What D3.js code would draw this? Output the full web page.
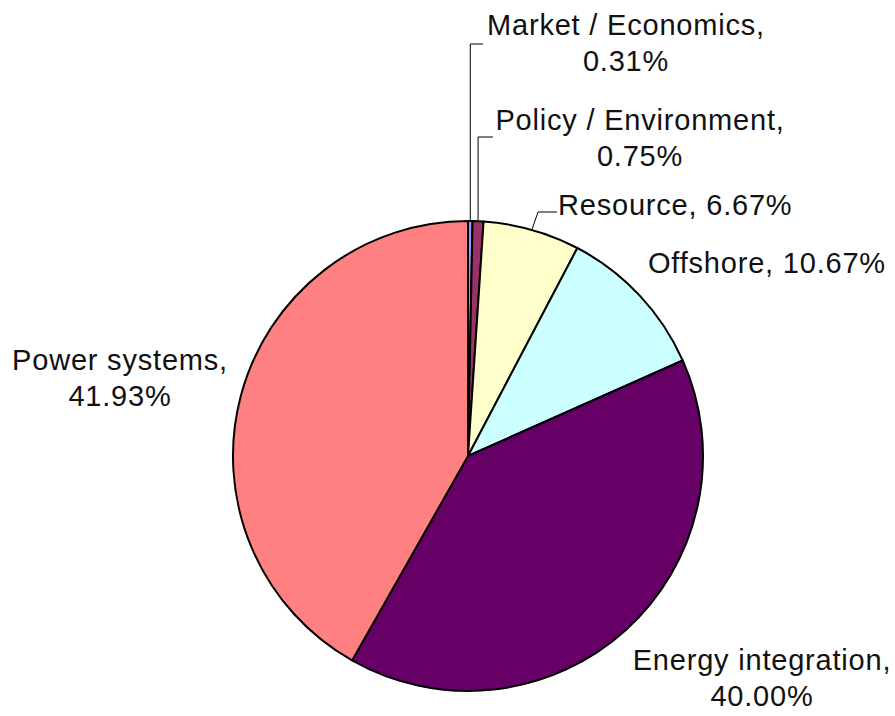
<!DOCTYPE html>
<html>
<head>
<meta charset="utf-8">
<script src="https://cdn.jsdelivr.net/npm/d3@7"></script>
<style>
  body { margin: 0; background: #fff; }
  text { font-family: "Liberation Sans", Arial, sans-serif; font-size: 29px; letter-spacing: 0.8px; fill: #111; }
</style>
</head>
<body>
<div class="canvas"></div>
<script>
const categories = ['Market / Economics', 'Policy / Environment', 'Resource', 'Offshore', 'Energy integration', 'Power systems'];
const shares = [0.31, 0.75, 6.67, 10.67, 40.00, 41.93];
const colours = ['#9999FF', '#993366', '#FFFFCC', '#CCFFFF', '#660066', '#FF8080'];

// label placement (lines of text, anchor point, leader elbow)
const labelLayout = [
  { x: 626, y: 35, anchor: 'middle', split: true, leader: { y: 44, endX: 483 } },
  { x: 640, y: 130, anchor: 'middle', split: true, leader: { y: 137, endX: 493 } },
  { x: 558, y: 215, anchor: 'start', split: false, leader: { elbow: [538, 212], endX: 557 } },
  { x: 648, y: 273, anchor: 'start', split: false },
  { x: 762, y: 670, anchor: 'middle', split: true },
  { x: 120, y: 370, anchor: 'middle', split: true }
];

const dims = { width: 895, height: 716, radius: 235 };
const cent = { x: 468, y: 456 };

const svg = d3.select('.canvas')
  .append('svg')
  .attr('width', dims.width)
  .attr('height', dims.height);

const graph = svg.append('g')
  .attr('transform', `translate(${cent.x}, ${cent.y})`);

const data = categories.map((name, i) => ({ name, value: shares[i], color: colours[i] }));

const pie = d3.pie()
  .sort(null)
  .value(d => d.value);

const arcPath = d3.arc()
  .outerRadius(dims.radius)
  .innerRadius(0);

const arcs = pie(data);

graph.selectAll('path')
  .data(arcs)
  .enter()
  .append('path')
    .attr('d', arcPath)
    .attr('fill', d => d.data.color)
    .attr('stroke', '#000')
    .attr('stroke-width', 2)
    .attr('stroke-linejoin', 'round');

// leader lines
arcs.forEach((d, i) => {
  const lay = labelLayout[i];
  if (!lay.leader) return;
  const mid = (d.startAngle + d.endAngle) / 2;
  const sx = cent.x + dims.radius * Math.sin(mid);
  const sy = cent.y - dims.radius * Math.cos(mid);
  let pts;
  if (lay.leader.elbow) {
    pts = [[sx, sy], lay.leader.elbow, [lay.leader.endX, lay.leader.elbow[1]]];
  } else {
    pts = [[sx, sy], [sx, lay.leader.y], [lay.leader.endX, lay.leader.y]];
  }
  svg.append('path')
    .attr('d', d3.line()(pts))
    .attr('fill', 'none')
    .attr('stroke', '#000')
    .attr('stroke-width', 1);
});

// labels
const fmt = d3.format('.2f');
arcs.forEach((d, i) => {
  const lay = labelLayout[i];
  const t = svg.append('text')
    .attr('x', lay.x)
    .attr('y', lay.y)
    .attr('text-anchor', lay.anchor);
  const pct = fmt(d.data.value) + '%';
  if (lay.split) {
    t.append('tspan').attr('x', lay.x).text(d.data.name + ',');
    t.append('tspan').attr('x', lay.x).attr('dy', 36).text(pct);
  } else {
    t.text(d.data.name + ', ' + pct);
  }
});
</script>
</body>
</html>
